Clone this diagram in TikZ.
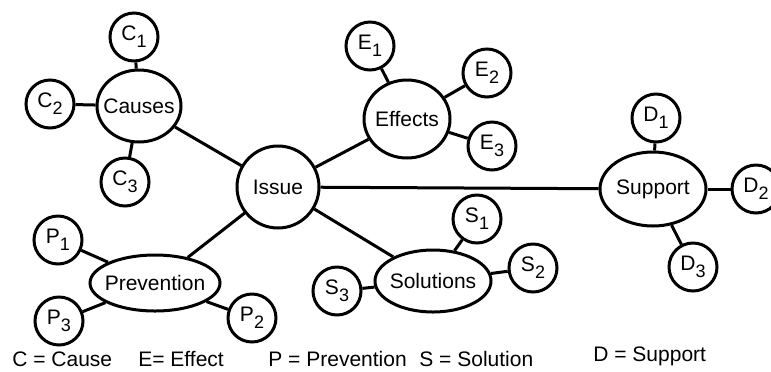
\documentclass[tikz,border=0pt]{standalone}
\usepackage{fontspec}
\setmainfont{Liberation Sans}
\usetikzlibrary{shapes.geometric}
\newcommand{\idx}[1]{\raisebox{-3.5pt}{\small #1}}
\tikzstyle{topic}=[
	ellipse,
	draw,
	line width=1.5pt,
	inner xsep=-3pt,
	inner ysep=0pt
]
\tikzstyle{item}=[
	circle,
	draw,
	line width=1.5pt,
	minimum size=24pt,
	inner sep=0pt
]
\tikzstyle{link}=[
	line width=1.5pt
]
\tikzstyle{key}=[
	anchor=west,
	inner sep=0pt
]
\begin{document}
\begin{tikzpicture}[x=0.5pt,y=-0.5pt,font=\fontsize{10.5}{12.6}\selectfont]
\useasboundingbox (0,0) rectangle (771,371);
\node [topic, minimum width=41pt, minimum height=41pt] (Issue) at (278,187) {Issue};
% causes
\node [topic, minimum width=42pt, minimum height=36pt] (Causes) at (139,106) {Causes}
	edge [link] (Issue);
\node [item] (C1) at (134,37) {C\idx{1}}
	edge [link] (Causes);
\node [item] (C2) at (50,104) {C\idx{2}}
	edge [link] (Causes);
\node [item] (C3) at (125,182) {C\idx{3}}
	edge [link] (Causes);
% effects
\node [topic, minimum width=43pt, minimum height=39pt] (Effects) at (407,119) {Effects}
	edge [link] (Issue);
\node [item] (E1) at (370,46) {E\idx{1}}
	edge [link] (Effects);
\node [item] (E2) at (487,73) {E\idx{2}}
	edge [link] (Effects);
\node [item] (E3) at (492,146) {E\idx{3}}
	edge [link] (Effects);
% support
\node [topic, minimum width=53pt, minimum height=37pt] (Support) at (653,189) {Support}
	edge [link] (Issue);
\node [item] (D1) at (656,118) {D\idx{1}}
	edge [link] (Support);
\node [item] (D2) at (756,189) {D\idx{2}}
	edge [link] (Support);
\node [item] (D3) at (693,267) {D\idx{3}}
	edge [link] (Support);
% prevention
\node [topic, minimum width=65pt, minimum height=28pt] (Prevention) at (155,283) {Prevention}
	edge [link] (Issue);
\node [item] (P1) at (58,240) {P\idx{1}}
	edge [link] (Prevention);
\node [item] (P2) at (252,318) {P\idx{2}}
	edge [link] (Prevention);
\node [item] (P3) at (59,321) {P\idx{3}}
	edge [link] (Prevention);
% solutions
\node [topic, minimum width=58pt, minimum height=31pt] (Solutions) at (433,281) {Solutions}
	edge [link] (Issue);
\node [item] (S1) at (477,219) {S\idx{1}}
	edge [link] (Solutions);
\node [item] (S2) at (533,268) {S\idx{2}}
	edge [link] (Solutions);
\node [item] (S3) at (337,291) {S\idx{3}}
	edge [link] (Solutions);
% legend
\node [key] (KeyC) at (12,359) {C = Cause};
\node [key] (KeyE) at (138,359) {E= Effect};
\node [key] (KeyP) at (268,359) {P = Prevention};
\node [key] (KeyS) at (419,359) {S = Solution};
\node [key] (KeyD) at (593,356) {D = Support};
\end{tikzpicture}
\end{document}
